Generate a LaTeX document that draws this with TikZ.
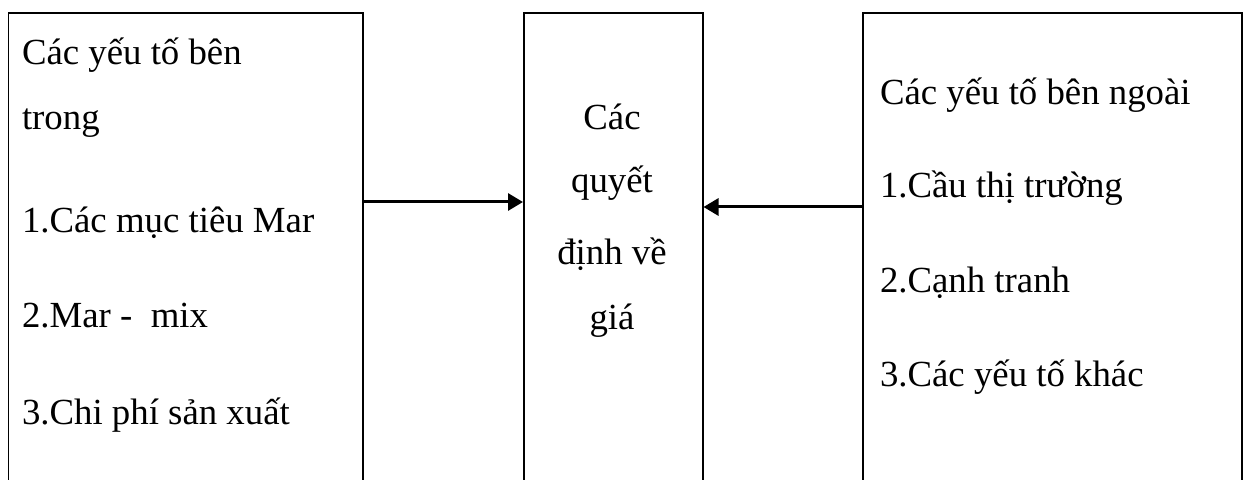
\documentclass[tikz,border=0pt]{standalone}
\usepackage{fontspec}
\setmainfont{Liberation Serif}
\newfontfamily\vnserif{Liberation Serif}
\usepackage{tikz}
\usetikzlibrary{positioning}
\usetikzlibrary{arrows.meta}
\tikzset{%
  factor box/.style={
    draw,
    line width=0.75pt,
    anchor=north west,
    inner sep=0pt,
    minimum height=250pt
  },
  factor text/.style={
    anchor=base west,
    inner sep=0pt,
    outer sep=0pt,
    font=\vnserif\fontsize{18.4}{32.5}\selectfont
  },
  price text/.style={
    factor text,
    anchor=base
  },
}

\begin{document}
\begin{tikzpicture}[> = {Triangle[length=7.5pt,width=8.5pt]}, x=0.5pt, y=-0.5pt]
\clip (0,0) rectangle (1244,480);
\fill[white] (0,0) rectangle (1244,480);
% the three boxes
\node[factor box, minimum width=177.25pt] (inner) at (7.5,12.5) {};
\node[factor box, minimum width=89.5pt] (price) at (523,12.5) {};
\node[factor box, minimum width=189.5pt] (outer) at (862,12.5) {};
% internal factors
\node[factor text] (inner_0) at (22,65) {Các yếu tố bên};
\node[factor text] (inner_1) at (22,130) {trong};
\node[factor text] (inner_2) at (22,233) {1.Các mục tiêu Mar};
\node[factor text] (inner_3) at (22,328) {2.Mar -\ \ mix};
\node[factor text] (inner_4) at (22,425) {3.Chi phí sản xuất};
% pricing decisions
\node[price text] (price_0) at (612,130) {Các};
\node[price text] (price_1) at (612,193) {quyết};
\node[price text] (price_2) at (612,265) {định về};
\node[price text] (price_3) at (612,330) {giá};
% external factors
\node[factor text] (outer_0) at (880,105) {Các yếu tố bên ngoài};
\node[factor text] (outer_1) at (880,198) {1.Cầu thị trường};
\node[factor text] (outer_2) at (880,293) {2.Cạnh tranh};
\node[factor text] (outer_3) at (880,387) {3.Các yếu tố khác};
% arrows
\draw[line width=1.5pt, ->] (inner.east |- 0,202) -- (price.west |- 0,202);
\draw[line width=1.5pt, ->] (outer.west |- 0,207) -- (price.east |- 0,207);
\end{tikzpicture}
\end{document}
